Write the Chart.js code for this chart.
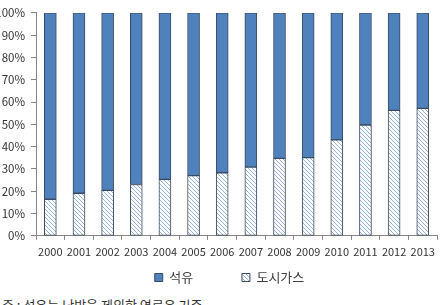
<!DOCTYPE html>
<html>
<head>
<meta charset="utf-8">
<script src="https://cdn.jsdelivr.net/npm/chart.js@4"></script>
<style>
  html, body { margin: 0; padding: 0; background: #fff; }
  body { width: 440px; height: 305px; overflow: hidden; position: relative; }
  #wrap { position: absolute; left: 0; top: 0; width: 440px; height: 294px; }
  #note { position: absolute; left: 2px; top: 295px; font: 13px 'Noto Sans CJK KR', sans-serif; color: #333; white-space: nowrap; }
</style>
</head>
<body>
<div id="wrap"><canvas id="chart"></canvas></div>
<div id="note">주 : 석유는 난방을 제외한 연료유 기준</div>
<script>
const years = ['2000', '2001', '2002', '2003', '2004', '2005', '2006', '2007', '2008', '2009', '2010', '2011', '2012', '2013'];
const cityGas = [16.4, 19.1, 20.4, 23.0, 25.3, 27.0, 28.3, 30.8, 34.7, 35.1, 43.0, 49.7, 56.3, 57.2];
const oil = [83.6, 80.9, 79.6, 77.0, 74.7, 73.0, 71.7, 69.2, 65.3, 64.9, 57.0, 50.3, 43.7, 42.8];
const yTicks = [0, 10, 20, 30, 40, 50, 60, 70, 80, 90, 100];

// diagonal hatch for city gas
function hatch() {
  const c = document.createElement('canvas');
  c.width = 4; c.height = 4;
  const g = c.getContext('2d');
  g.fillStyle = '#fff';
  g.fillRect(0, 0, 4, 4);
  g.strokeStyle = '#9bb2dc';
  g.lineWidth = 1;
  g.beginPath();
  g.moveTo(0, 0); g.lineTo(4, 4);
  g.moveTo(-1, 3); g.lineTo(1, 5);
  g.moveTo(3, -1); g.lineTo(5, 1);
  g.stroke();
  return g.createPattern(c, 'repeat');
}

// nudge the legend to sit where the original one is
const legendShift = {
  id: 'legendShift',
  afterLayout(chart) {
    if (chart.legend) {
      chart.legend.left += 10;
      chart.legend.right += 10;
    }
  }
};

const fontKR = "'Noto Sans CJK KR', sans-serif";
const axisColor = '#868686';

new Chart(document.getElementById('chart'), {
  type: 'bar',
  data: {
    labels: years,
    datasets: [
      {
        label: '도시가스',
        data: cityGas,
        backgroundColor: hatch(),
        borderColor: '#3a4a60',
        borderWidth: 1,
        borderSkipped: false,
        barThickness: 12
      },
      {
        label: '석유',
        data: oil,
        backgroundColor: '#4f81bd',
        borderColor: '#3a4a60',
        borderWidth: 1,
        borderSkipped: false,
        barThickness: 12
      }
    ]
  },
  options: {
    responsive: true,
    maintainAspectRatio: false,
    animation: false,
    layout: { padding: { top: 10, right: 1, left: 0, bottom: 0 } },
    plugins: {
      tooltip: { enabled: false },
      legend: {
        position: 'bottom',
        reverse: true,
        labels: {
          boxWidth: 8,
          boxHeight: 8,
          padding: 8,
          color: '#404040',
          font: { family: fontKR, size: 13 },
          generateLabels(chart) {
            const items = Chart.defaults.plugins.legend.labels.generateLabels(chart);
            items.forEach(it => {
              if (it.text === '석유') it.text = '석유              ';
            });
            return items;
          }
        }
      }
    },
    scales: {
      x: {
        stacked: true,
        grid: { drawOnChartArea: false, tickLength: 4, color: axisColor },
        border: { color: axisColor },
        ticks: { color: '#333', padding: 5, maxRotation: 0, autoSkip: false, font: { family: fontKR, size: 11 } }
      },
      y: {
        stacked: true,
        min: 0,
        max: 100,
        afterFit(scale) { scale.width = 36; },
        afterBuildTicks(scale) { scale.ticks = yTicks.map(v => ({ value: v })); },
        grid: { drawOnChartArea: false, tickLength: 5, color: axisColor },
        border: { color: axisColor },
        ticks: {
          color: '#333',
          padding: 6,
          font: { family: fontKR, size: 11.5 },
          callback: v => v + '%'
        }
      }
    }
  },
  plugins: [legendShift]
});
</script>
</body>
</html>
